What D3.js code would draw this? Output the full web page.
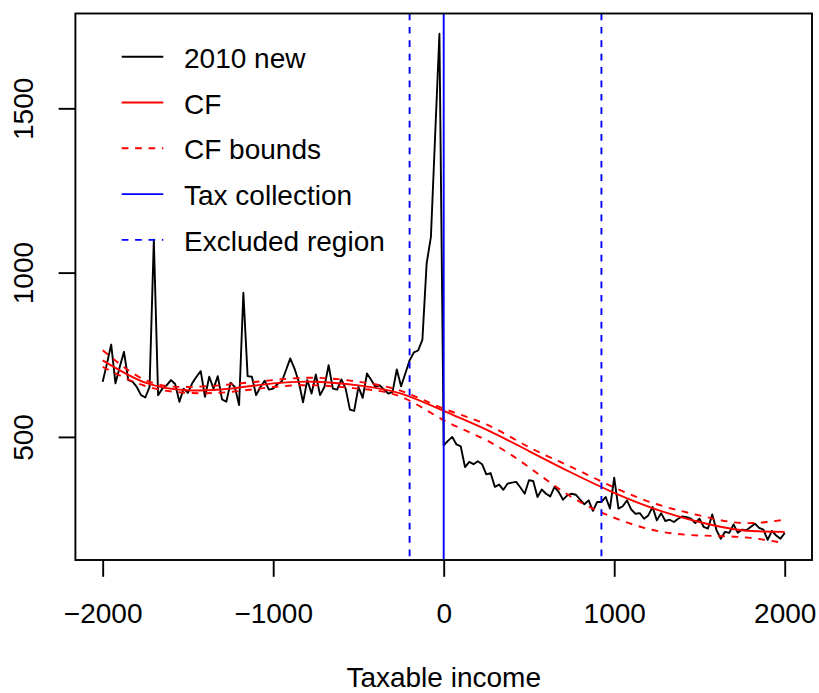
<!DOCTYPE html>
<html>
<head>
<meta charset="utf-8">
<script src="https://cdn.jsdelivr.net/npm/d3@7"></script>
<style>
  html, body { margin: 0; padding: 0; background: #fff; }
  svg { display: block; }
  text { font-family: "Liberation Sans", Arial, Helvetica, sans-serif; font-size: 28px; fill: #000; }
</style>
</head>
<body>
<svg id="chart" width="819" height="693"></svg>
<script>
// Bunching data: taxable income relative to the threshold, in bins of 25
const binStart = -2000;
const binWidth = 25;
const counts2010 = [
  668, 723, 781, 663, 713, 759, 673, 668, 652, 627,
  620, 652, 1100, 627, 647, 657, 673, 661, 607, 647,
  634, 663, 683, 700, 622, 683, 647, 685, 614, 607,
  665, 652, 597, 939, 685, 683, 627, 652, 671, 644,
  647, 661, 668, 703, 739, 708, 668, 605, 673, 632,
  690, 627, 652, 718, 647, 644, 675, 647, 583, 579,
  652, 619, 693, 673, 652, 657, 644, 632, 637, 705,
  654, 693, 733, 757, 763, 795, 1028, 1109, 1420, 1727,
  474, 488, 500, 477, 471, 408, 424, 417, 426, 417,
  386, 390, 348, 355, 339, 358, 361, 363, 346, 327,
  368, 366, 317, 340, 327, 319, 348, 332, 309, 322,
  327, 324, 309, 295, 307, 275, 302, 302, 317, 282,
  376, 282, 289, 307, 279, 266, 268, 251, 261, 287,
  246, 268, 244, 248, 241, 251, 258, 256, 251, 238,
  251, 226, 221, 264, 216, 190, 211, 208, 234, 208,
  218, 216, 226, 236, 223, 218, 187, 214, 200, 190,
  208
];

// Counterfactual fit and its bounds, evaluated every 250
const cfX     = [-2000, -1750, -1500, -1250, -1000, -750, -500, -250, 0, 250, 500, 750, 1000, 1250, 1500, 1750, 2000];
const cfFit   = [733, 665, 642, 647, 663, 668, 657, 632, 579, 522, 457, 391, 330, 279, 241, 216, 211];
const cfUpper = [764, 673, 652, 660, 673, 680, 668, 640, 586, 538, 469, 408, 346, 295, 261, 238, 248];
const cfLower = [713, 655, 634, 637, 652, 657, 647, 622, 551, 490, 408, 317, 254, 214, 200, 195, 177];

// Reference lines
const taxCollection = [0];
const excludedRegion = [-200, 925];

// Axis ticks
const xTicks = [-2000, -1000, 0, 1000, 2000];
const yTicks = [500, 1000, 1500];

const legendLabels = ["2010 new", "CF", "CF bounds", "Tax collection", "Excluded region"];
const xTitle = "Taxable income";

// ---------------------------------------------------------------
const W = 819, H = 693;
const margin = { left: 75.4, right: 7, top: 13.5, bottom: 133 };
const plotL = margin.left, plotR = W - margin.right;
const plotT = margin.top, plotB = H - margin.bottom;

const xs = counts2010.map((_, i) => binStart + i * binWidth);
const series = xs.map((x, i) => ({ x, y: counts2010[i] }));

// R-style 4% padding on both axes
function padded(ext) {
  const r = ext[1] - ext[0];
  return [ext[0] - 0.04 * r, ext[1] + 0.04 * r];
}
const x = d3.scaleLinear().domain(padded(d3.extent(xs))).range([plotL, plotR]);
const y = d3.scaleLinear().domain(padded(d3.extent(counts2010))).range([plotB, plotT]);

const svg = d3.select("#chart");

svg.append("defs").append("clipPath").attr("id", "plotClip")
  .append("rect").attr("x", plotL).attr("y", plotT)
  .attr("width", plotR - plotL).attr("height", plotB - plotT);

const plot = svg.append("g").attr("clip-path", "url(#plotClip)");

const LW = 1.9;
const DASH = "6.7,6.7";

// Observed counts
plot.append("path")
  .datum(series)
  .attr("fill", "none")
  .attr("stroke", "#000")
  .attr("stroke-width", LW)
  .attr("stroke-linejoin", "round")
  .attr("d", d3.line().x(d => x(d.x)).y(d => y(d.y)));

// Counterfactual fit and bounds
const smooth = d3.line().curve(d3.curveNatural).x(d => x(d[0])).y(d => y(d[1]));
plot.append("path")
  .attr("fill", "none").attr("stroke", "#ff0000").attr("stroke-width", LW)
  .attr("d", smooth(cfX.map((v, i) => [v, cfFit[i]])));
[cfUpper, cfLower].forEach(b => {
  plot.append("path")
    .attr("fill", "none").attr("stroke", "#ff0000").attr("stroke-width", LW)
    .attr("stroke-dasharray", DASH)
    .attr("d", smooth(cfX.map((v, i) => [v, b[i]])));
});

// Vertical reference lines
plot.selectAll("line.tax").data(taxCollection).join("line")
  .attr("class", "tax")
  .attr("x1", d => x(d)).attr("x2", d => x(d))
  .attr("y1", plotT).attr("y2", plotB)
  .attr("stroke", "#0000ff").attr("stroke-width", LW);
plot.selectAll("line.excl").data(excludedRegion).join("line")
  .attr("class", "excl")
  .attr("x1", d => x(d)).attr("x2", d => x(d))
  .attr("y1", plotT).attr("y2", plotB)
  .attr("stroke", "#0000ff").attr("stroke-width", LW)
  .attr("stroke-dasharray", DASH);

// Plot frame
svg.append("rect")
  .attr("x", plotL).attr("y", plotT)
  .attr("width", plotR - plotL).attr("height", plotB - plotT)
  .attr("fill", "none").attr("stroke", "#000").attr("stroke-width", LW);

// Axes
const tick = 16.8;
const fmt = d => d < 0 ? "\u2212" + Math.abs(d) : String(d);

const gx = svg.append("g").attr("transform", `translate(0,${plotB})`)
  .call(d3.axisBottom(x).tickValues(xTicks).tickSize(tick).tickPadding(26).tickFormat(fmt));
gx.select(".domain").remove();
gx.selectAll(".tick line").attr("stroke", "#000").attr("stroke-width", LW);
gx.selectAll(".tick text").attr("font-size", null).attr("font-family", null);

const gy = svg.append("g").attr("transform", `translate(${plotL},0)`)
  .call(d3.axisLeft(y).tickValues(yTicks).tickSize(tick).tickFormat(fmt));
gy.select(".domain").remove();
gy.selectAll(".tick line").attr("stroke", "#000").attr("stroke-width", LW);
gy.selectAll(".tick text")
  .attr("font-size", null).attr("font-family", null)
  .attr("x", null).attr("dy", null)
  .attr("text-anchor", "middle")
  .attr("transform", `translate(${33.3 - plotL},0) rotate(-90)`);
svg.selectAll(".tick text").style("fill", "#000");

// Axis title
svg.append("text")
  .attr("x", (plotL + plotR) / 2).attr("y", 686.5)
  .attr("text-anchor", "middle")
  .text(xTitle);

// Legend
const legendStyles = [
  { color: "#000",    dash: null },
  { color: "#ff0000", dash: null },
  { color: "#ff0000", dash: DASH },
  { color: "#0000ff", dash: null },
  { color: "#0000ff", dash: DASH }
];
const legY0 = 56.7, legStep = 45.8;
const leg = svg.append("g");
legendLabels.forEach((lab, i) => {
  const yy = legY0 + i * legStep;
  leg.append("line")
    .attr("x1", 121.7).attr("x2", 163.3).attr("y1", yy).attr("y2", yy)
    .attr("stroke", legendStyles[i].color).attr("stroke-width", LW)
    .attr("stroke-dasharray", legendStyles[i].dash);
  leg.append("text")
    .attr("x", 184).attr("y", yy + 11)
    .text(lab);
});
</script>
</body>
</html>
